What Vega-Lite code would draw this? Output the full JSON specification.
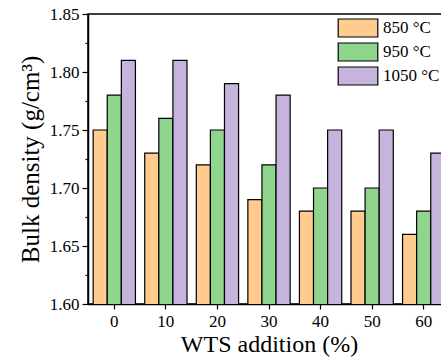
{
  "$schema": "https://vega.github.io/schema/vega-lite/v6.json",
  "width": 362,
  "height": 290,
  "autosize": "none",
  "padding": {"left": 88, "top": 14, "right": 0, "bottom": 57},
  "background": "white",
  "config": {
    "view": {"stroke": "black", "strokeWidth": 1.5},
    "font": "Liberation Serif",
    "axis": {"labelFont": "Liberation Serif", "titleFont": "Liberation Serif", "labelColor": "black", "titleColor": "black", "domainColor": "black", "tickColor": "black", "domainWidth": 1.5, "tickWidth": 1.2, "grid": false, "titleFontWeight": "normal"},
    "legend": {"labelFont": "Liberation Serif"}
  },
  "data": {
    "values": [
      {"wts": "0", "temp": "850 °C", "density": 1.75},
      {"wts": "0", "temp": "950 °C", "density": 1.78},
      {"wts": "0", "temp": "1050 °C", "density": 1.81},
      {"wts": "10", "temp": "850 °C", "density": 1.73},
      {"wts": "10", "temp": "950 °C", "density": 1.76},
      {"wts": "10", "temp": "1050 °C", "density": 1.81},
      {"wts": "20", "temp": "850 °C", "density": 1.72},
      {"wts": "20", "temp": "950 °C", "density": 1.75},
      {"wts": "20", "temp": "1050 °C", "density": 1.79},
      {"wts": "30", "temp": "850 °C", "density": 1.69},
      {"wts": "30", "temp": "950 °C", "density": 1.72},
      {"wts": "30", "temp": "1050 °C", "density": 1.78},
      {"wts": "40", "temp": "850 °C", "density": 1.68},
      {"wts": "40", "temp": "950 °C", "density": 1.70},
      {"wts": "40", "temp": "1050 °C", "density": 1.75},
      {"wts": "50", "temp": "850 °C", "density": 1.68},
      {"wts": "50", "temp": "950 °C", "density": 1.70},
      {"wts": "50", "temp": "1050 °C", "density": 1.75},
      {"wts": "60", "temp": "850 °C", "density": 1.66},
      {"wts": "60", "temp": "950 °C", "density": 1.68},
      {"wts": "60", "temp": "1050 °C", "density": 1.73}
    ]
  },
  "mark": {"type": "bar", "stroke": "black", "strokeWidth": 1.2, "clip": true},
  "encoding": {
    "x": {
      "field": "wts", "type": "ordinal",
      "sort": ["0", "10", "20", "30", "40", "50", "60"],
      "scale": {"paddingInner": 0.18, "paddingOuter": 0.1},
      "axis": {"title": "WTS addition (%)", "labelAngle": 0, "labelFontSize": 17, "titleFontSize": 24, "tickSize": 5, "labelPadding": 4, "titlePadding": 3}
    },
    "xOffset": {"field": "temp", "sort": ["850 °C", "950 °C", "1050 °C"]},
    "y": {
      "field": "density", "type": "quantitative",
      "scale": {"domain": [1.6, 1.85], "zero": false, "nice": false},
      "axis": {
        "title": "Bulk density (g/cm³)",
        "values": [1.6, 1.625, 1.65, 1.675, 1.7, 1.725, 1.75, 1.775, 1.8, 1.825, 1.85],
        "labelExpr": "round(datum.value*1000) % 50 == 0 ? format(datum.value, '.2f') : ''",
        "tickSize": {"condition": {"test": "round(datum.value*1000) % 50 != 0", "value": 3}, "value": 6},
        "labelFontSize": 17, "titleFontSize": 25, "labelPadding": 3, "titlePadding": 6
      }
    },
    "fill": {
      "field": "temp", "type": "nominal",
      "scale": {"domain": ["850 °C", "950 °C", "1050 °C"], "range": ["#FFCB8E", "#8FD58D", "#C7B4DE"]},
      "legend": {
        "title": null, "orient": "none", "legendX": 260, "legendY": 4,
        "symbolType": "M-2.2,-1H2.2V1H-2.2Z", "symbolSize": 324,
        "symbolStrokeColor": "black", "symbolStrokeWidth": 1.2, "symbolOpacity": 1,
        "labelFontSize": 17, "labelColor": "black", "rowPadding": 0, "labelOffset": 15, "padding": 0
      }
    }
  }
}
